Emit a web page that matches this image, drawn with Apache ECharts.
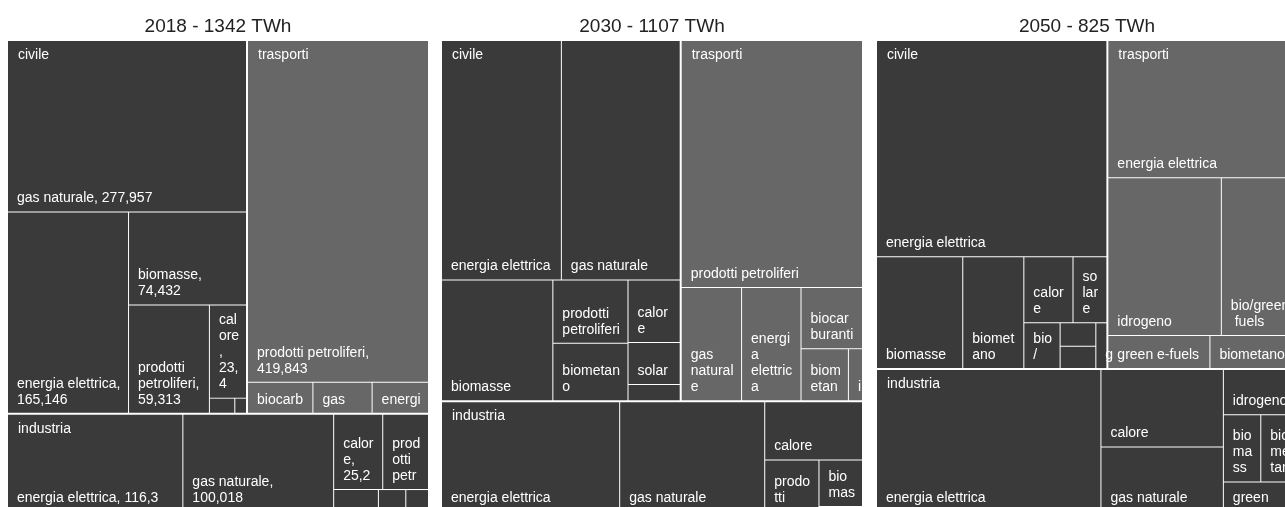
<!DOCTYPE html>
<html>
<head>
<meta charset="utf-8">
<script src="https://cdn.jsdelivr.net/npm/echarts@6/dist/echarts.min.js"></script>
<style>
html,body{margin:0;padding:0;background:#ffffff;}
#chart{width:1285px;height:507px;}
</style>
</head>
<body>
<div id="chart"></div>
<script>
// ---- data ----
const years = ['2018', '2030', '2050'];
const totals = [1342, 1107, 825];
const sectors = ['civile', 'trasporti', 'industria'];

const civile2018Names = ['gas naturale', 'energia elettrica', 'biomasse', 'prodotti petroliferi', 'calore', 'solare', 'geotermia'];
const civile2018Values = [277.957, 165.146, 74.432, 59.313, 23.4, 2.6, 1.2];
const trasporti2018Names = ['prodotti petroliferi', 'biocarburanti', 'gas naturale', 'energia elettrica'];
const trasporti2018Values = [419.843, 13.8, 12.5, 11.9];
const industria2018Names = ['energia elettrica', 'gas naturale', 'calore', 'prodotti petroliferi', 'carbone', 'biomasse', 'rifiuti'];
const industria2018Values = [116.3, 100.018, 25.2, 23.5, 6.7, 4.1, 3.4];

const civile2030Names = ['energia elettrica', 'gas naturale', 'biomasse', 'prodotti petroliferi', 'biometano', 'calore', 'solare', 'geotermia'];
const civile2030Values = [160.3, 158.9, 75.1, 26.6, 24.1, 18.2, 12.3, 4.7];
const trasporti2030Names = ['prodotti petroliferi', 'gas naturale', 'energia elettrica', 'biocarburanti', 'biometano', 'idrogeno'];
const trasporti2030Values = [250.5, 38.2, 37.6, 21.0, 13.8, 4.1];
const industria2030Names = ['energia elettrica', 'gas naturale', 'calore', 'prodotti petroliferi', 'biomasse', 'idrogeno'];
const industria2030Values = [109.7, 89.3, 31.9, 15.7, 11.4, 1.2];

const civile2050Names = ['energia elettrica', 'biomasse', 'biometano', 'calore', 'solare', 'bio/green fuels', 'idrogeno', 'gas naturale', 'green e-fuels'];
const civile2050Values = [207.5, 40.1, 28.4, 13.5, 9.3, 6.9, 3.5, 3.3, 2.1];
const trasporti2050Names = ['energia elettrica', 'idrogeno', 'bio/green fuels', 'green e-fuels', 'biometano'];
const trasporti2050Values = [108.5, 74.5, 50.0, 14.1, 12.1];
const industria2050Names = ['energia elettrica', 'calore', 'gas naturale', 'idrogeno', 'biomasse', 'biometano', 'green e-fuels', 'prodotti petroliferi'];
const industria2050Values = [132.9, 39.6, 32.9, 14.0, 10.5, 10.3, 7.8, 1.3];

const showValues = [true, false, false];

// ---- styling / layout ----
const FONT = "'Liberation Sans', Arial, sans-serif";
const FONT_SIZE = 14;
const PAD_LEFT = 9, PAD_RIGHT = 6;
const sectorColors = ['#3a3a3a', '#676767', '#3a3a3a'];
const chartLefts = [8, 442, 877];
const chartTop = 41, chartW = 420, chartH = 470;
const squareRatios = [1.2, 1.035, 1.08];

const yearData = [
  [[civile2018Names, civile2018Values], [trasporti2018Names, trasporti2018Values], [industria2018Names, industria2018Values]],
  [[civile2030Names, civile2030Values], [trasporti2030Names, trasporti2030Values], [industria2030Names, industria2030Values]],
  [[civile2050Names, civile2050Values], [trasporti2050Names, trasporti2050Values], [industria2050Names, industria2050Values]]
];

function fmtNum(v) { return String(v).replace('.', ','); }

// text measuring for layout-aware "name, value" labels
const measureCtx = document.createElement('canvas').getContext('2d');
measureCtx.font = FONT_SIZE + "px 'Liberation Sans', Arial, sans-serif";
function tw(s) { return measureCtx.measureText(s).width; }

const labelMap = {}; // key: year|sector|name -> text (filled from library layout)

function buildValueLabel(name, value, cellWidth) {
  const val = fmtNum(value);
  const avail = cellWidth - PAD_LEFT - PAD_RIGHT;
  const one = name + ', ' + val;
  if (tw(one) <= avail) return one;
  let head = name + ',';
  if (tw(head) > avail) {
    const words = name.split(' ');
    const lines = [];
    let cur = '';
    words.forEach(function (wd, i) {
      const piece = i === words.length - 1 ? wd + ',' : wd;
      const cand = cur ? cur + ' ' + piece : piece;
      if (!cur || tw(cand) <= avail) cur = cand;
      else { lines.push(cur); cur = piece; }
    });
    lines.push(cur);
    head = lines.join('\n');
  }
  return head + '\n' + val;
}

function buildOption() {
  const series = [];
  const titles = [];
  yearData.forEach(function (secs, k) {
    const box = { left: chartLefts[k], top: chartTop, width: chartW, height: chartH };
    const groups = secs.map(function (pair, j) {
      return {
        name: sectors[j],
        itemStyle: { color: sectorColors[j] },
        children: pair[0].map(function (n, i) { return { name: n, value: pair[1][i] }; })
      };
    });
    const withVals = showValues[k];
    series.push(Object.assign({
      type: 'treemap',
      id: 'main' + k,
      z: 2,
      roam: false, nodeClick: false,
      breadcrumb: { show: false },
      sort: 'desc',
      squareRatio: squareRatios[k],
      visibleMin: 1,
      animation: false,
      emphasis: { disabled: true },
      label: {
        show: true, position: 'insideBottomLeft', distance: 0,
        color: '#ffffff', fontSize: FONT_SIZE, lineHeight: 16, fontFamily: FONT,
        overflow: 'break', padding: [6, PAD_RIGHT, 5, PAD_LEFT],
        formatter: function (p) {
          if (!withVals) return p.name;
          const sec = p.treePathInfo && p.treePathInfo.length > 1 ? p.treePathInfo[1].name : '';
          const key = k + '|' + sec + '|' + p.name;
          return labelMap[key] || (p.name + ',\n' + fmtNum(p.value));
        }
      },
      upperLabel: { show: false },
      itemStyle: { borderWidth: 0, gapWidth: 0, borderColor: '#ffffff' },
      levels: [
        { itemStyle: { borderWidth: 0, gapWidth: 2, borderColor: '#ffffff' } },
        { itemStyle: { borderWidth: 0, gapWidth: 1, borderColor: '#ffffff' } },
        { itemStyle: { borderWidth: 0 } }
      ],
      data: groups
    }, box));

    // overlay series: sector names at the top-left of each sector block
    series.push(Object.assign({
      type: 'treemap',
      id: 'overlay' + k,
      z: 5,
      silent: true,
      roam: false, nodeClick: false,
      breadcrumb: { show: false },
      sort: 'desc',
      squareRatio: squareRatios[k],
      animation: false,
      emphasis: { disabled: true },
      label: {
        show: true, position: 'insideTopLeft', distance: 0,
        color: '#ffffff', fontSize: FONT_SIZE, lineHeight: 16, fontFamily: FONT,
        padding: [6, 6, 5, 10], formatter: '{b}'
      },
      upperLabel: { show: false },
      itemStyle: { color: 'transparent', borderColor: 'transparent', borderWidth: 0, gapWidth: 0 },
      levels: [
        { itemStyle: { borderWidth: 0, gapWidth: 2, borderColor: 'transparent' } },
        { itemStyle: { color: 'transparent', borderColor: 'transparent', borderWidth: 0 } }
      ],
      data: groups.map(function (g) {
        return { name: g.name, value: g.children.reduce(function (s, c) { return s + c.value; }, 0) };
      })
    }, box));

    titles.push({
      text: years[k] + ' - ' + totals[k] + ' TWh',
      left: chartLefts[k] + chartW / 2 - 5,
      top: 12,
      textAlign: 'center',
      textStyle: { fontSize: 19, fontWeight: 'normal', color: '#222222', fontFamily: FONT }
    });
  });
  return {
    backgroundColor: '#ffffff',
    animation: false,
    title: titles,
    tooltip: { show: false },
    series: series
  };
}

const chart = echarts.init(document.getElementById('chart'), null, { renderer: 'canvas' });
chart.setOption(buildOption());

// second pass: use the library's own cell layout to decide label wrapping
try {
  const model = chart.getModel();
  showValues.forEach(function (sv, k) {
    if (!sv) return;
    const sm = model.getSeriesByIndex(k * 2);
    const tree = sm.getData().tree;
    tree.root.eachNode(function (node) {
      if (node.children && node.children.length) return;
      if (!node.parentNode || !node.parentNode.parentNode) return;
      const lay = node.getLayout();
      if (!lay) return;
      const key = k + '|' + node.parentNode.name + '|' + node.name;
      labelMap[key] = buildValueLabel(node.name, node.getValue(), lay.width);
    });
  });
  chart.setOption(buildOption(), true);
} catch (e) { /* keep first-pass labels */ }
</script>
</body>
</html>
